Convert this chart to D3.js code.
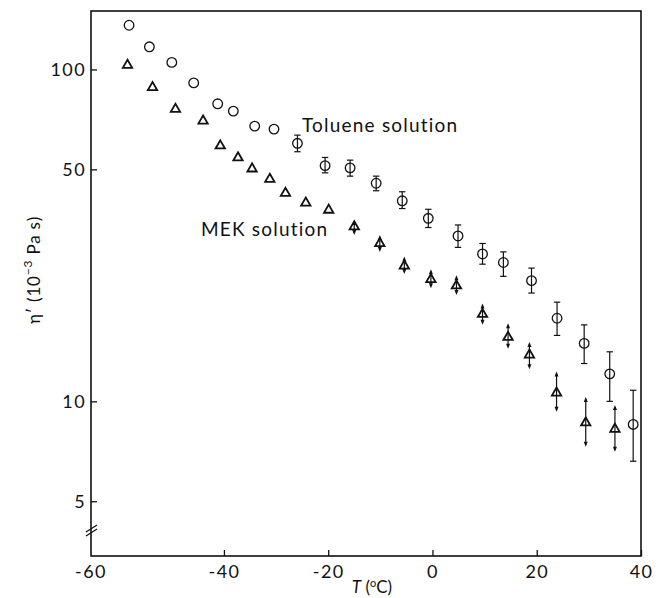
<!DOCTYPE html>
<html>
<head>
<meta charset="utf-8">
<script src="https://cdn.jsdelivr.net/npm/d3@7"></script>
<style>
  html, body { margin: 0; padding: 0; background: #fff; }
  svg { display: block; }
  text { font-family: Lato, "Noto Sans", sans-serif; fill: #111; }
</style>
</head>
<body>
<svg id="chart" width="661" height="598"></svg>
<script>
// Temperature (°C) and dynamic viscosity η′ (10^-3 Pa s)
const tolueneT   = [-58.2, -54.3, -50.0, -45.8, -41.2, -38.2, -34.1, -30.4, -25.9, -20.6, -15.8, -10.8, -5.8, -0.8, 4.9, 9.6, 13.6, 19.0, 23.9, 29.1, 34.0, 38.5];
const tolueneEta = [135.9, 117, 105, 91.1, 78.8, 74.9, 67.5, 66.1, 59.9, 51.3, 50.5, 45.4, 40.2, 35.6, 31.5, 27.8, 26.2, 23.1, 17.8, 14.95, 12.1, 8.52];
const tolueneHi  = [null, null, null, null, null, null, null, null, 63.4, 54.3, 53.3, 47.7, 42.8, 37.9, 34.0, 29.9, 28.2, 25.2, 19.9, 17.0, 14.1, 10.8];
const tolueneLo  = [null, null, null, null, null, null, null, null, 56.5, 48.8, 47.7, 43.1, 38.1, 33.4, 29.1, 25.9, 23.8, 21.2, 15.8, 13.0, 10.0, 6.6];

const mekT   = [-58.5, -53.7, -49.3, -44.0, -40.7, -37.3, -34.6, -31.2, -28.2, -24.3, -19.9, -15.0, -10.1, -5.4, -0.3, 4.6, 9.6, 14.5, 18.6, 23.8, 29.4, 35.0];
const mekEta = [103.0, 88.3, 75.9, 70.0, 58.9, 54.2, 50.2, 46.7, 42.4, 39.6, 37.7, 33.6, 29.9, 25.6, 23.3, 22.3, 18.3, 15.6, 13.8, 10.6, 8.62, 8.25];
const mekHi  = [null, null, null, null, null, null, null, null, null, null, null, 35.2, 31.7, 27.3, 25.0, 24.0, 19.7, 17.2, 15.1, 12.3, 10.3, 9.75];
const mekLo  = [null, null, null, null, null, null, null, null, null, null, null, 31.7, 28.2, 24.2, 21.9, 20.9, 17.0, 14.4, 12.5, 9.3, 7.3, 7.05];

const xTicks = [-40, -20, 0, 20, 40];
const xCornerLabel = "-60";
const yTicks = [5, 10, 50, 100];
const seriesLabels = ["Toluene solution", "MEK solution"];

const svg = d3.select("#chart");
const plotLeft = 91, plotRight = 641, plotTop = 11, plotBottom = 556;

const x = d3.scaleLinear().domain([-65.5, 40]).range([plotLeft, plotRight]);
const y = d3.scaleLog().domain([3.42, 150]).range([plotBottom, plotTop]);

// Frame
svg.append("rect")
  .attr("x", plotLeft).attr("y", plotTop)
  .attr("width", plotRight - plotLeft).attr("height", plotBottom - plotTop)
  .attr("fill", "none").attr("stroke", "#111").attr("stroke-width", 1.6);

// Axes with inward ticks
const xAxis = svg.append("g")
  .attr("transform", `translate(0,${plotBottom})`)
  .call(d3.axisBottom(x).tickValues(xTicks).tickSizeInner(-6).tickSizeOuter(0).tickPadding(9)
        .tickFormat(d => String(d)));
const yAxis = svg.append("g")
  .attr("transform", `translate(${plotLeft},0)`)
  .call(d3.axisLeft(y).tickValues(yTicks).tickSizeInner(-6).tickSizeOuter(0).tickPadding(5)
        .tickFormat(d => String(d)));
[xAxis, yAxis].forEach(g => {
  g.select(".domain").remove();
  g.selectAll(".tick line").attr("stroke", "#111").attr("stroke-width", 1.3);
  g.selectAll(".tick text").attr("font-size", 18).attr("letter-spacing", 1.4)
    .style("font-family", "Lato, 'Noto Sans', sans-serif").attr("fill", "#111");
});
svg.append("text")
  .attr("x", x.range()[0]).attr("y", plotBottom + 9).attr("dy", "0.71em")
  .attr("text-anchor", "middle").attr("font-size", 18).attr("letter-spacing", 1.4)
  .text(xCornerLabel);

// Axis break on the y axis
[0, 4].forEach(o => {
  svg.append("line")
    .attr("x1", plotLeft - 5).attr("y1", 536 - o)
    .attr("x2", plotLeft + 6).attr("y2", 529 - o)
    .attr("stroke", "#111").attr("stroke-width", 1.3);
});

// Axis titles
const xt = svg.append("text")
  .attr("x", 372).attr("y", 593).attr("text-anchor", "middle").attr("font-size", 17);
xt.append("tspan").attr("font-style", "italic").text("T");
xt.append("tspan").text(" (");
xt.append("tspan").attr("font-size", 11).attr("dy", -6).text("o");
xt.append("tspan").attr("dy", 6).text("C)");

const yt = svg.append("text")
  .attr("transform", "translate(40,270) rotate(-90)")
  .attr("text-anchor", "middle").attr("font-size", 17).attr("letter-spacing", 0.8);
yt.append("tspan").text("η′ (10");
yt.append("tspan").attr("font-size", 12).attr("dy", -8).text("−3");
yt.append("tspan").attr("dy", 8).text(" Pa s)");

// Toluene: open circles with capped error bars
const tol = tolueneT.map((t, i) => ({t, v: tolueneEta[i], hi: tolueneHi[i], lo: tolueneLo[i]}));
const tg = svg.append("g").attr("stroke", "#111").attr("fill", "none");
tol.filter(d => d.hi != null).forEach(d => {
  const cx = x(d.t);
  tg.append("line").attr("x1", cx).attr("x2", cx).attr("y1", y(d.hi)).attr("y2", y(d.lo)).attr("stroke-width", 1.2);
  [d.hi, d.lo].forEach(v => tg.append("line")
    .attr("x1", cx - 3.2).attr("x2", cx + 3.2).attr("y1", y(v)).attr("y2", y(v)).attr("stroke-width", 1.2));
});
tg.selectAll("circle").data(tol).join("circle")
  .attr("cx", d => x(d.t)).attr("cy", d => y(d.v)).attr("r", 4.8).attr("stroke-width", 1.3);

// MEK: open triangles with double-headed arrows
const mek = mekT.map((t, i) => ({t, v: mekEta[i], hi: mekHi[i], lo: mekLo[i]}));
const mg = svg.append("g");
mek.filter(d => d.hi != null).forEach(d => {
  const cx = x(d.t), yh = y(d.hi), yl = y(d.lo);
  mg.append("line").attr("x1", cx).attr("x2", cx).attr("y1", yh + 2).attr("y2", yl - 2)
    .attr("stroke", "#111").attr("stroke-width", 1.2);
  mg.append("path").attr("d", `M${cx},${yh}L${cx - 2},${yh + 5}L${cx + 2},${yh + 5}Z`).attr("fill", "#111");
  mg.append("path").attr("d", `M${cx},${yl}L${cx - 2},${yl - 5}L${cx + 2},${yl - 5}Z`).attr("fill", "#111");
});
const tri = d3.symbol().type(d3.symbolTriangle).size(38);
mg.selectAll("path.tri").data(mek).join("path").attr("class", "tri")
  .attr("transform", d => `translate(${x(d.t)},${y(d.v)})`)
  .attr("d", tri).attr("fill", "none").attr("stroke", "#111").attr("stroke-width", 1.8);

// Series labels
svg.append("text").attr("x", 302).attr("y", 132).attr("font-size", 19).attr("letter-spacing", 1.2).text(seriesLabels[0]);
svg.append("text").attr("x", 201).attr("y", 236).attr("font-size", 19).attr("letter-spacing", 1.2).text(seriesLabels[1]);
</script>
</body>
</html>
